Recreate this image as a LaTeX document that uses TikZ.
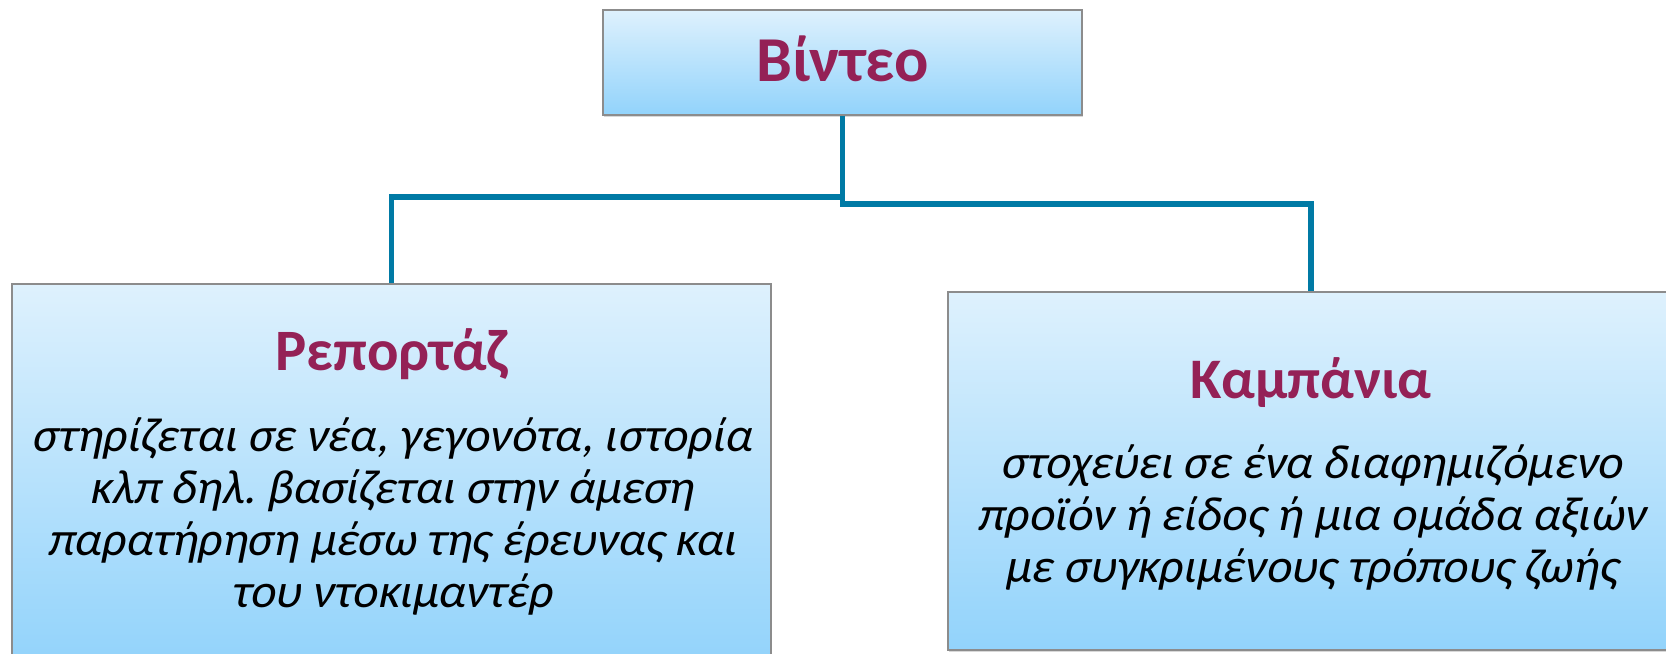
\documentclass[tikz,border=0pt]{standalone}
\usepackage{fontspec}
\setmainfont{Carlito}
\newfontfamily\slfont{Carlito}[FakeSlant=0.2]
\usetikzlibrary{shadows}
\definecolor{titlec}{RGB}{148,33,86}
\definecolor{linec}{RGB}{0,122,165}
\definecolor{boxtop}{RGB}{222,241,253}
\definecolor{boxbot}{RGB}{146,211,251}
\definecolor{boxedge}{RGB}{140,140,140}
\begin{document}
\begin{tikzpicture}[x=0.75pt,y=-0.75pt,
  box/.style={draw=boxedge, line width=0.8pt, top color=boxtop, bottom color=boxbot, rectangle, inner sep=0pt,
    drop shadow={shadow xshift=1pt, shadow yshift=-1.5pt, opacity=0.3}},
  head/.style={font=\fontsize{44}{52}\selectfont\bfseries, text=titlec, anchor=base, inner sep=0pt},
  body/.style={font=\slfont\fontsize{36}{39}\selectfont\frenchspacing, align=center, anchor=base, inner sep=0pt},
  conn/.style={draw=linec, line width=3.9pt}]
\useasboundingbox (0,0) rectangle (1666,653);
\clip (0,0) rectangle (1666,653);
\fill[white] (0,0) rectangle (1666,653);
% boxes
\node[box, minimum width=359.25pt, minimum height=78.75pt] (top) at (842.5,62.5) {};
\node[box, minimum width=569.25pt, minimum height=286.5pt] (left) at (391.5,475) {};
\node[box, minimum width=544.5pt, minimum height=268.5pt] (right) at (1311,471) {};
% connectors
\draw[conn] (top.south) -- (top.south |- 0,204) -- (right.north |- 0,204) -- (right.north);
\draw[conn] (top.south |- 0,197) -- (left.north |- 0,197) -- (left.north);
% texts
\node[head, font=\fontsize{48}{58}\selectfont\bfseries] (ttitle) at (842.5,81) {Βίντεο};
\node[head] (lhead) at (391.5,370) {Ρεπορτάζ};
\node[body] (lbody) at (391.5,607) {στηρίζεται σε νέα, γεγονότα, ιστορία\\κλπ δηλ. βασίζεται στην άμεση\\παρατήρηση μέσω της έρευνας και\\του ντοκιμαντέρ};
\node[head, font=\fontsize{43}{52}\selectfont\bfseries] (rhead) at (1311,398) {Καμπάνια};
\node[body] (rbody) at (1311,582) {στοχεύει σε ένα διαφημιζόμενο\\προϊόν ή είδος ή μια ομάδα αξιών\\με συγκριμένους τρόπους ζωής};
\end{tikzpicture}
\end{document}
